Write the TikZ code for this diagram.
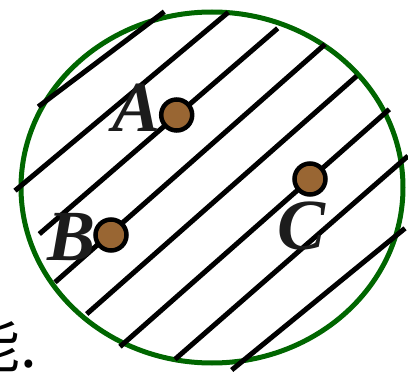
\documentclass[tikz,border=0pt]{standalone}
\usepackage{fontspec}
\setmainfont{Liberation Serif}
\newfontfamily\cjk{Noto Sans CJK SC}
\definecolor{rimgreen}{RGB}{0,102,0}
\definecolor{pointbrown}{RGB}{153,102,51}
\definecolor{labelgray}{RGB}{28,28,28}
\begin{document}
\begin{tikzpicture}[x=1pt,y=-1pt,
  hatch/.style={line width=5pt,black},
  charge/.style={circle,draw=black,line width=4.5pt,fill=pointbrown,minimum size=31pt,inner sep=0pt},
  lbl/.style={font=\fontsize{72}{72}\selectfont\bfseries\itshape,text=labelgray,inner sep=0pt}]
\useasboundingbox (0,0) rectangle (408,372);
\draw[rimgreen,line width=5pt] (212,187.5) ellipse [x radius=191,y radius=175.5];
\draw[hatch] (38.3,106.7) -- (164.3,11.7);
\draw[hatch] (15,190.7) -- (228.3,12.3);
\draw[hatch] (39.3,234) -- (277.7,28.3);
\draw[hatch] (55,282.3) -- (325,44.3);
\draw[hatch] (86.7,314) -- (356.7,76);
\draw[hatch] (120,346.7) -- (389.3,109.3);
\draw[hatch] (175,359.3) -- (408,156);
\draw[hatch] (231.7,370) -- (405,228.3);
\node[lbl] (la) at (137,108) {A};
\node[lbl] (lb) at (72,237) {B};
\node[lbl] (lc) at (302,226) {C};
\node[charge] (A) at (176.7,115) {};
\node[charge] (B) at (111,235) {};
\node[charge] (C) at (310,179) {};
\node[font=\cjk\fontsize{60}{60}\selectfont,anchor=base east,inner sep=0pt] (txt) at (37,367) {能.};
\end{tikzpicture}
\end{document}
